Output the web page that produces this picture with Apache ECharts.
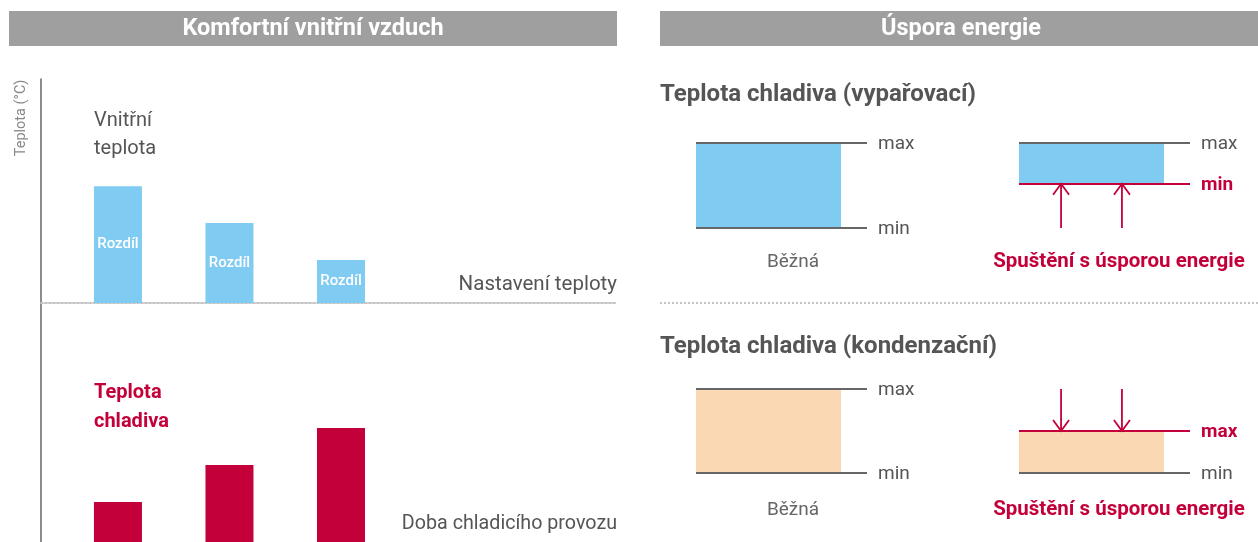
<!DOCTYPE html>
<html>
<head>
<meta charset="utf-8">
<script src="https://cdn.jsdelivr.net/npm/echarts@6/dist/echarts.min.js"></script>
<style>
  html, body { margin: 0; padding: 0; background: #ffffff; }
  #chart { width: 1258px; height: 542px; }
</style>
</head>
<body>
<div id="chart"></div>
<script>
// ---- data ----
// cooling operation time steps
const timeSteps = [1, 2, 3];
// indoor temperature above the set point (relative units)
const indoorDiff = [3.13, 2.14, 1.15];
// refrigerant temperature (relative units, from the bottom of the scale)
const refrigTemp = [1.07, 2.06, 3.05];
const diffLabel = 'Rozdíl';

// refrigerant temperature ranges [min, max] (relative units)
const evapNormal = [0, 2];
const evapSaving = [1.04, 2];
const condNormal = [0, 2];
const condSaving = [0, 1];

// ---- styling ----
const FONT = 'Roboto, "Noto Sans", sans-serif';
const BLUE = '#7fcbf1';
const RED = '#c4003a';
const PEACH = '#fad8b3';
const LINE_GRAY = '#666666';
const TEXT_GRAY = '#555555';
const HEADER_GRAY = '#9e9f9e';

const RECT_FRAC = 0.848;            // share of the panel width covered by the range box
const ARROW_POS = [0.246, 0.602];   // horizontal arrow positions inside a panel

const chart = echarts.init(document.getElementById('chart'), null, { renderer: 'canvas' });

const grids = [];
const xAxes = [];
const yAxes = [];
const series = [];

const hidden = {
  axisLine: { show: false }, axisTick: { show: false },
  axisLabel: { show: false }, splitLine: { show: false }
};

// ---- left: indoor temperature vs refrigerant temperature ----
const X_MIN = 0.31, X_MAX = 5.475;
grids.push({ left: 41, top: 79, width: 576, height: 224, outerBoundsMode: 'none' });
grids.push({ left: 41, top: 303, width: 576, height: 239, outerBoundsMode: 'none' });

xAxes.push({
  gridIndex: 0, type: 'value', min: X_MIN, max: X_MAX,
  axisLine: { show: true, onZero: false, lineStyle: { color: '#c4c4c4', width: 2, type: [2, 2] } },
  axisTick: { show: false }, axisLabel: { show: false }, splitLine: { show: false }
});
xAxes.push(Object.assign({ gridIndex: 1, type: 'value', min: X_MIN, max: X_MAX }, hidden));

const yLine = { show: true, onZero: false, lineStyle: { color: LINE_GRAY, width: 1.5 } };
yAxes.push({ gridIndex: 0, type: 'value', min: 0, max: 6, axisLine: yLine,
  axisTick: { show: false }, axisLabel: { show: false }, splitLine: { show: false } });
yAxes.push({ gridIndex: 1, type: 'value', min: 0, max: 6.4, axisLine: yLine,
  axisTick: { show: false }, axisLabel: { show: false }, splitLine: { show: false } });

series.push({
  type: 'bar', xAxisIndex: 0, yAxisIndex: 0, barWidth: 48,
  itemStyle: { color: BLUE },
  label: { show: true, position: 'inside', formatter: diffLabel, color: '#ffffff',
    fontFamily: FONT, fontSize: 15, fontWeight: 500 },
  data: timeSteps.map((t, i) => [t, indoorDiff[i]])
});
series.push({
  type: 'bar', xAxisIndex: 1, yAxisIndex: 1, barWidth: 48,
  itemStyle: { color: RED },
  data: timeSteps.map((t, i) => [t, refrigTemp[i]])
});

// ---- right: refrigerant temperature ranges ----
function addPanel(left, top, height, range, fill, highlight, arrows) {
  const gi = grids.length;
  grids.push({ left: left, top: top, width: 171, height: height, outerBoundsMode: 'none' });
  xAxes.push(Object.assign({ gridIndex: gi, type: 'value', min: 0, max: 1 }, hidden));
  yAxes.push(Object.assign({ gridIndex: gi, type: 'value', min: 0, max: 2 }, hidden));

  // range box
  series.push({
    type: 'custom', xAxisIndex: gi, yAxisIndex: gi, silent: true, clip: false,
    data: [[range[0], range[1]]],
    renderItem: function (params, api) {
      const a = api.coord([0, api.value(1)]);
      const b = api.coord([RECT_FRAC, api.value(0)]);
      return { type: 'rect', shape: { x: a[0], y: a[1], width: b[0] - a[0], height: b[1] - a[1] },
        style: { fill: fill } };
    }
  });

  // min / max limit lines
  function limit(value, name) {
    const hot = highlight === name;
    return {
      yAxis: value,
      lineStyle: { color: hot ? RED : LINE_GRAY, width: 2, type: 'solid' },
      label: { show: true, position: 'end', distance: 11, formatter: name,
        color: hot ? RED : TEXT_GRAY, fontWeight: hot ? 'bold' : 'normal',
        fontFamily: FONT, fontSize: 19, offset: [0, 1.5] }
    };
  }
  series.push({
    type: 'line', xAxisIndex: gi, yAxisIndex: gi, data: [], silent: true,
    markLine: { silent: true, symbol: ['none', 'none'], animation: false,
      data: [limit(range[1], 'max'), limit(range[0], 'min')] }
  });

  // arrows showing how the limit moves
  if (arrows) {
    series.push({
      type: 'custom', xAxisIndex: gi, yAxisIndex: gi, silent: true, clip: false,
      data: ARROW_POS.map(x => [x, arrows[0], arrows[1]]),
      renderItem: function (params, api) {
        const from = api.coord([api.value(0), api.value(1)]);
        const to = api.coord([api.value(0), api.value(2)]);
        const dir = to[1] < from[1] ? 1 : -1;
        const style = { stroke: RED, lineWidth: 1.8, fill: null };
        return {
          type: 'group',
          children: [
            { type: 'line', shape: { x1: from[0], y1: from[1], x2: to[0], y2: to[1] }, style: style },
            { type: 'polyline', shape: { points: [[to[0] - 8, to[1] + dir * 11], [to[0], to[1]], [to[0] + 8, to[1] + dir * 11]] }, style: style }
          ]
        };
      }
    });
  }
}

addPanel(696, 143, 85, evapNormal, BLUE, null, null);
addPanel(1019, 143, 85, evapSaving, BLUE, 'min', [evapNormal[0], evapSaving[0]]);
addPanel(696, 389, 84, condNormal, PEACH, null, null);
addPanel(1019, 389, 84, condSaving, PEACH, 'max', [condNormal[1], condSaving[1]]);

// ---- texts and headers ----
function text(x, y, str, opts) {
  const s = Object.assign({
    text: str, fontFamily: FONT, fontSize: 20, fontWeight: 'normal', fill: TEXT_GRAY,
    align: 'left', verticalAlign: 'middle'
  }, opts || {});
  s.textAlign = s.align; s.textVerticalAlign = s.verticalAlign;
  s.font = (s.fontWeight === 'bold' ? 'bold ' : '') + s.fontSize + 'px ' + FONT;
  return { type: 'text', x: x, y: y, rotation: s.rotation || 0, silent: true, style: s };
}

const graphics = [
  { type: 'rect', silent: true, shape: { x: 9, y: 11, width: 608, height: 35 }, style: { fill: HEADER_GRAY } },
  { type: 'rect', silent: true, shape: { x: 660, y: 11, width: 598, height: 35 }, style: { fill: HEADER_GRAY } },
  text(313, 29, 'Komfortní vnitřní vzduch', { fill: '#ffffff', fontWeight: 'bold', fontSize: 23.5, align: 'center' }),
  text(961, 29, 'Úspora energie', { fill: '#ffffff', fontWeight: 'bold', fontSize: 23.5, align: 'center' }),

  text(94, 106.5, 'Vnitřní\nteplota', { verticalAlign: 'top', lineHeight: 28 }),
  text(94, 378.5, 'Teplota\nchladiva', { verticalAlign: 'top', lineHeight: 29, fill: RED, fontWeight: 'bold' }),
  text(617, 285, 'Nastavení teploty', { align: 'right', fontSize: 20.5 }),
  text(617, 524, 'Doba chladicího provozu', { align: 'right', fontSize: 19.7 }),

  { type: 'line', silent: true, shape: { x1: 660, y1: 303, x2: 1258, y2: 303 },
    style: { stroke: '#c4c4c4', lineWidth: 2, lineDash: [2, 2] } },

  text(660, 95, 'Teplota chladiva (vypařovací)', { fontWeight: 'bold', fontSize: 24 }),
  text(660, 347, 'Teplota chladiva (kondenzační)', { fontWeight: 'bold', fontSize: 24 }),
  text(793, 262, 'Běžná', { align: 'center', fontSize: 19, fill: '#666666' }),
  text(793, 510, 'Běžná', { align: 'center', fontSize: 19, fill: '#666666' }),
  text(1119, 262, 'Spuštění s úsporou energie', { align: 'center', fontSize: 20.5, fontWeight: 'bold', fill: RED }),
  text(1119, 510, 'Spuštění s úsporou energie', { align: 'center', fontSize: 20.5, fontWeight: 'bold', fill: RED })
];
const axisName = text(21, 118, 'Teplota (°C)', { align: 'center', fontSize: 14.5, fill: '#888888' });
axisName.rotation = Math.PI / 2;
graphics.push(axisName);

chart.setOption({
  animation: false,
  backgroundColor: '#ffffff',
  grid: grids,
  xAxis: xAxes,
  yAxis: yAxes,
  series: series,
  graphic: { elements: graphics }
});
</script>
</body>
</html>
